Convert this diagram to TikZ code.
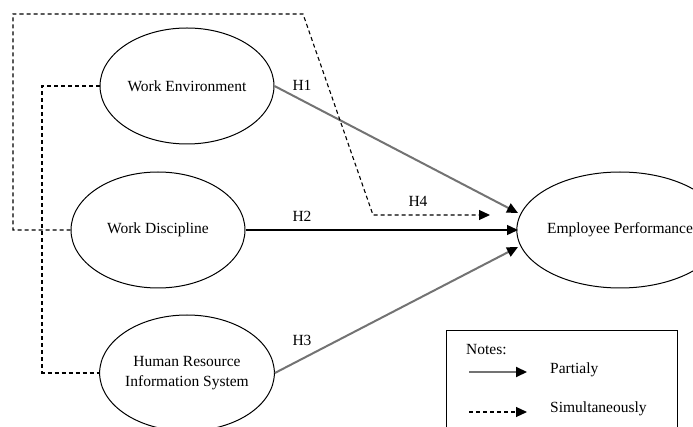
\documentclass[tikz,border=0pt]{standalone}
\usepackage{fontspec}
\setmainfont{Liberation Serif}
\usetikzlibrary{shapes.geometric,arrows.meta}
\begin{document}
\begin{tikzpicture}[x=1pt,y=-1pt,
  var/.style={ellipse,draw,line width=1pt,minimum width=174pt,minimum height=116pt,inner sep=0pt,align=center,font=\fontsize{15.5}{20}\selectfont},
  lbl/.style={font=\fontsize{15.5}{18}\selectfont,inner sep=0pt},
  tip/.style={-{Triangle[length=11pt,width=10pt,color=black]}},
  part/.style={tip,draw=black!55,line width=2pt},
  simul/.style={tip,dash pattern=on 4pt off 3pt,line width=1.1pt}
]
\useasboundingbox (0,0) rectangle (693,427);
\begin{scope}
\clip (0,0) rectangle (693,427);
\node[var] (WE) at (187,86) {Work Environment};
\node[var] (WD) at (158,230) {Work Discipline};
\node[var] (HR) at (187,373) {Human Resource\\Information System};
\node[var] (EP) at (620,230) {Employee Performance};

\coordinate (e1) at (518,213);
\coordinate (e2) at (518,230);
\coordinate (e3) at (518,247);
\coordinate (e4) at (490,215);

\draw[part] (WE.east) -- (e1);
\draw[tip,line width=1.4pt] (WD.east) -- (e2);
\draw[part] (HR.east) -- (e3);

\draw[simul] (WD.west) -- (13,230) -- (13,14) -- (303,14) -- (373,215) -- (e4);
\draw[dash pattern=on 4pt off 3pt,line width=1.1pt] (WE.west) -- (42,86) -- (42,373) -- (HR.west);

\node[lbl] (h1) at (302,85) {H1};
\node[lbl] (h2) at (302,216) {H2};
\node[lbl] (h3) at (302,340) {H3};
\node[lbl] (h4) at (418,201) {H4};

\draw[line width=1pt] (446,440) -- (446,331) -- (677,331) -- (677,440);
\node[lbl,anchor=west] (notes) at (466,350) {Notes:};
\coordinate (la1) at (469,372);
\coordinate (lb1) at (527,372);
\coordinate (la2) at (469,412);
\coordinate (lb2) at (527,412);
\draw[part] (la1) -- (lb1);
\draw[simul] (la2) -- (lb2);
\node[lbl,anchor=west] (p) at (550,370) {Partialy};
\node[lbl,anchor=west] (s) at (550,409) {Simultaneously};
\end{scope}
\end{tikzpicture}
\end{document}
